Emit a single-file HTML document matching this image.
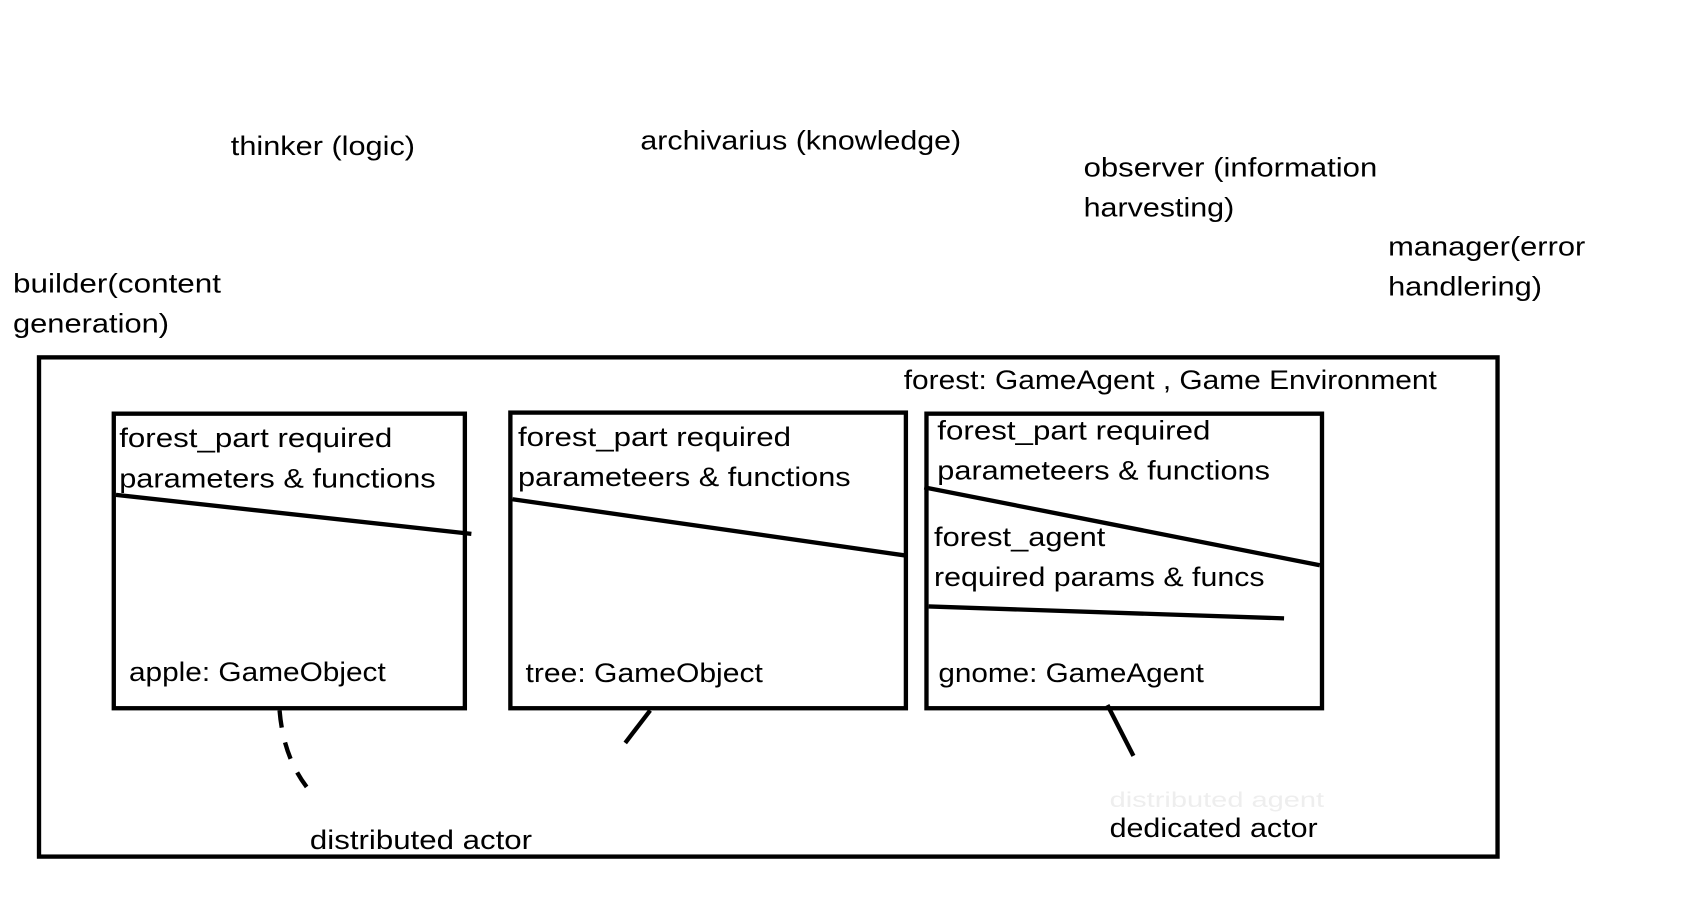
<!DOCTYPE html>
<html><head><meta charset="utf-8"><style>html,body{margin:0;padding:0;background:#fff}svg{display:block}</style></head>
<body>
<svg width="1698" height="901" viewBox="0 0 1567 832" preserveAspectRatio="none" xmlns="http://www.w3.org/2000/svg">
<g font-family="Liberation Sans, sans-serif" font-size="25" fill="#000">
<text x="213" y="143" textLength="170" lengthAdjust="spacingAndGlyphs">thinker (logic)</text>
<text x="591" y="138" textLength="296" lengthAdjust="spacingAndGlyphs">archivarius (knowledge)</text>
<text x="1000" y="163" textLength="271" lengthAdjust="spacingAndGlyphs">observer (information</text>
<text x="1000" y="200" textLength="139" lengthAdjust="spacingAndGlyphs">harvesting)</text>
<text x="1281" y="236" textLength="182" lengthAdjust="spacingAndGlyphs">manager(error</text>
<text x="1281" y="273" textLength="142" lengthAdjust="spacingAndGlyphs">handlering)</text>
<text x="12" y="270" textLength="192" lengthAdjust="spacingAndGlyphs">builder(content</text>
<text x="12" y="307" textLength="144" lengthAdjust="spacingAndGlyphs">generation)</text>
<text x="834" y="359" textLength="492" lengthAdjust="spacingAndGlyphs">forest: GameAgent , Game Environment</text>
<text x="110" y="413" textLength="252" lengthAdjust="spacingAndGlyphs">forest_part required</text>
<text x="110" y="450" textLength="292" lengthAdjust="spacingAndGlyphs">parameters &amp; functions</text>
<text x="119" y="629" textLength="237" lengthAdjust="spacingAndGlyphs">apple: GameObject</text>
<text x="478" y="412" textLength="252" lengthAdjust="spacingAndGlyphs">forest_part required</text>
<text x="478" y="449" textLength="307" lengthAdjust="spacingAndGlyphs">parameteers &amp; functions</text>
<text x="485" y="630" textLength="219" lengthAdjust="spacingAndGlyphs">tree: GameObject</text>
<text x="865" y="406" textLength="252" lengthAdjust="spacingAndGlyphs">forest_part required</text>
<text x="865" y="443" textLength="307" lengthAdjust="spacingAndGlyphs">parameteers &amp; functions</text>
<text x="862" y="504" textLength="158" lengthAdjust="spacingAndGlyphs">forest_agent</text>
<text x="862" y="541" textLength="305" lengthAdjust="spacingAndGlyphs">required params &amp; funcs</text>
<text x="866" y="630" textLength="245" lengthAdjust="spacingAndGlyphs">gnome: GameAgent</text>
<text x="286" y="784" textLength="205" lengthAdjust="spacingAndGlyphs">distributed actor</text>
<text x="1024" y="773" textLength="192" lengthAdjust="spacingAndGlyphs">dedicated actor</text>
<text x="1024" y="745" textLength="198" lengthAdjust="spacingAndGlyphs" fill="#eee" font-size="20">distributed agent</text>
</g>
<g fill="none" stroke="#000" stroke-width="4">
<rect x="36" y="330" width="1346" height="461"/>
<rect x="105" y="382" width="324" height="272"/>
<rect x="471" y="381" width="365" height="273"/>
<rect x="855" y="382" width="365" height="272"/>
<line x1="107" y1="457" x2="435" y2="493"/>
<line x1="473" y1="461" x2="836" y2="513"/>
<line x1="853" y1="450" x2="1218" y2="522"/>
<line x1="857" y1="560" x2="1185" y2="571"/>
<path d="M258 656 Q262 705 290 735" stroke-dasharray="16 14"/>
<line x1="600" y1="656" x2="577" y2="686"/>
<line x1="1022" y1="651" x2="1046" y2="698"/>
</g>
</svg>
</body></html>
